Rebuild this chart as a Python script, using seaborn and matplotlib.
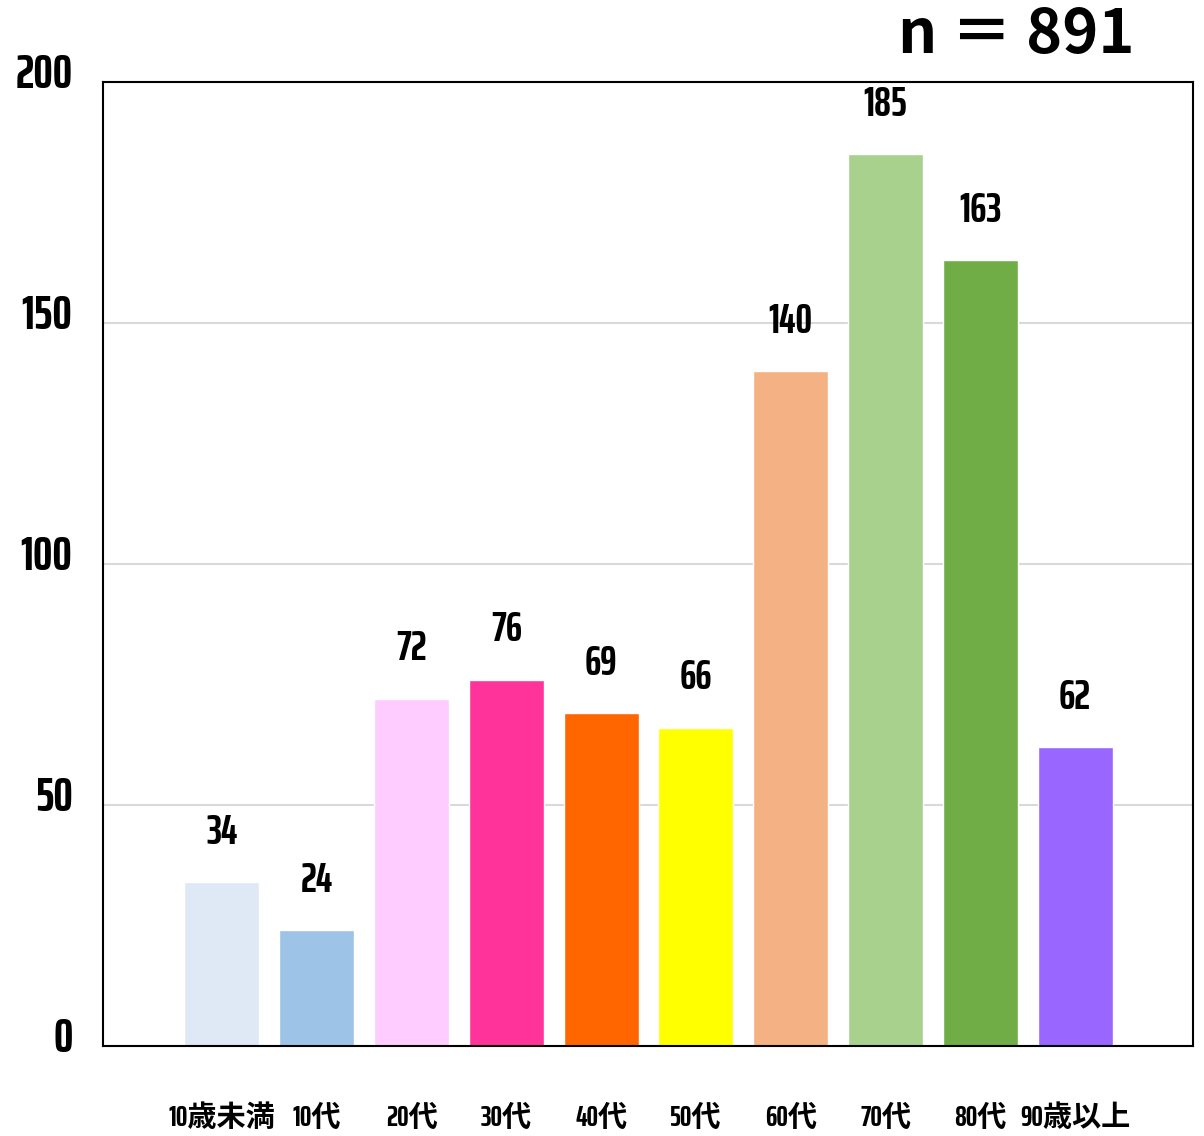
import matplotlib
matplotlib.use("Agg")
import matplotlib.pyplot as plt
import matplotlib.transforms as mtransforms
import seaborn as sns
import pandas as pd

# 年代別の件数
categories = ["10歳未満", "10代", "20代", "30代", "40代", "50代", "60代", "70代", "80代", "90歳以上"]
counts = [34, 24, 72, 76, 69, 66, 140, 185, 163, 62]
bar_colors = ["#DEE9F5", "#9DC3E6", "#FFCCFF", "#FF3399", "#FF6600",
              "#FFFF00", "#F4B183", "#A9D18E", "#70AD47", "#9966FF"]
total_label = "n ＝ 891"

sns.set_theme(style="white")
# 細身の数字 + 日本語はNotoにフォールバック
narrow = ["Saira ExtraCondensed", "Fira Sans Extra Condensed", "Roboto Condensed",
          "DejaVu Sans", "Noto Sans CJK JP"]
plt.rcParams["font.family"] = narrow
plt.rcParams["font.weight"] = "bold"
plt.rcParams["text.color"] = "black"
plt.rcParams["xtick.color"] = "black"
plt.rcParams["ytick.color"] = "black"

df = pd.DataFrame({"age": categories, "count": counts})

fig = plt.figure(figsize=(12.04, 11.36), dpi=100)
ax = fig.add_axes([0.0855, 0.0792, 0.9055, 0.8486])

sns.barplot(data=df, x="age", y="count", hue="age", palette=bar_colors,
            width=0.79, legend=False, saturation=1, ax=ax)

ax.set_ylim(0, 200)
ax.set_xlim(-1.255, 10.245)
ax.set_yticks([0, 50, 100, 150, 200])
ax.yaxis.grid(True, color="#D9D9D9", linewidth=1.5)
ax.set_axisbelow(True)
ax.set_xlabel("")
ax.set_ylabel("")

for s in ax.spines.values():
    s.set_color("black")
    s.set_linewidth(1.5)

ax.tick_params(axis="y", length=0, pad=22, labelsize=35)
ax.tick_params(axis="x", length=0, pad=42, labelsize=21)
shift_up = mtransforms.ScaledTranslation(0, 9 / 72, fig.dpi_scale_trans)
for lbl in ax.get_yticklabels():
    lbl.set_fontweight("bold")
    lbl.set_transform(lbl.get_transform() + shift_up)
for lbl in ax.get_xticklabels():
    lbl.set_fontweight("bold")

for i, v in enumerate(counts):
    ax.text(i, v + 10.5, str(v), ha="center", va="center",
            fontsize=30, fontweight="bold")

fig.text(1135 / 1204, 1 - 35 / 1136, total_label, ha="right", va="center",
         fontsize=44, fontweight="bold", family=["Noto Sans CJK JP", "DejaVu Sans"])

fig.savefig("out.png", dpi=100)
